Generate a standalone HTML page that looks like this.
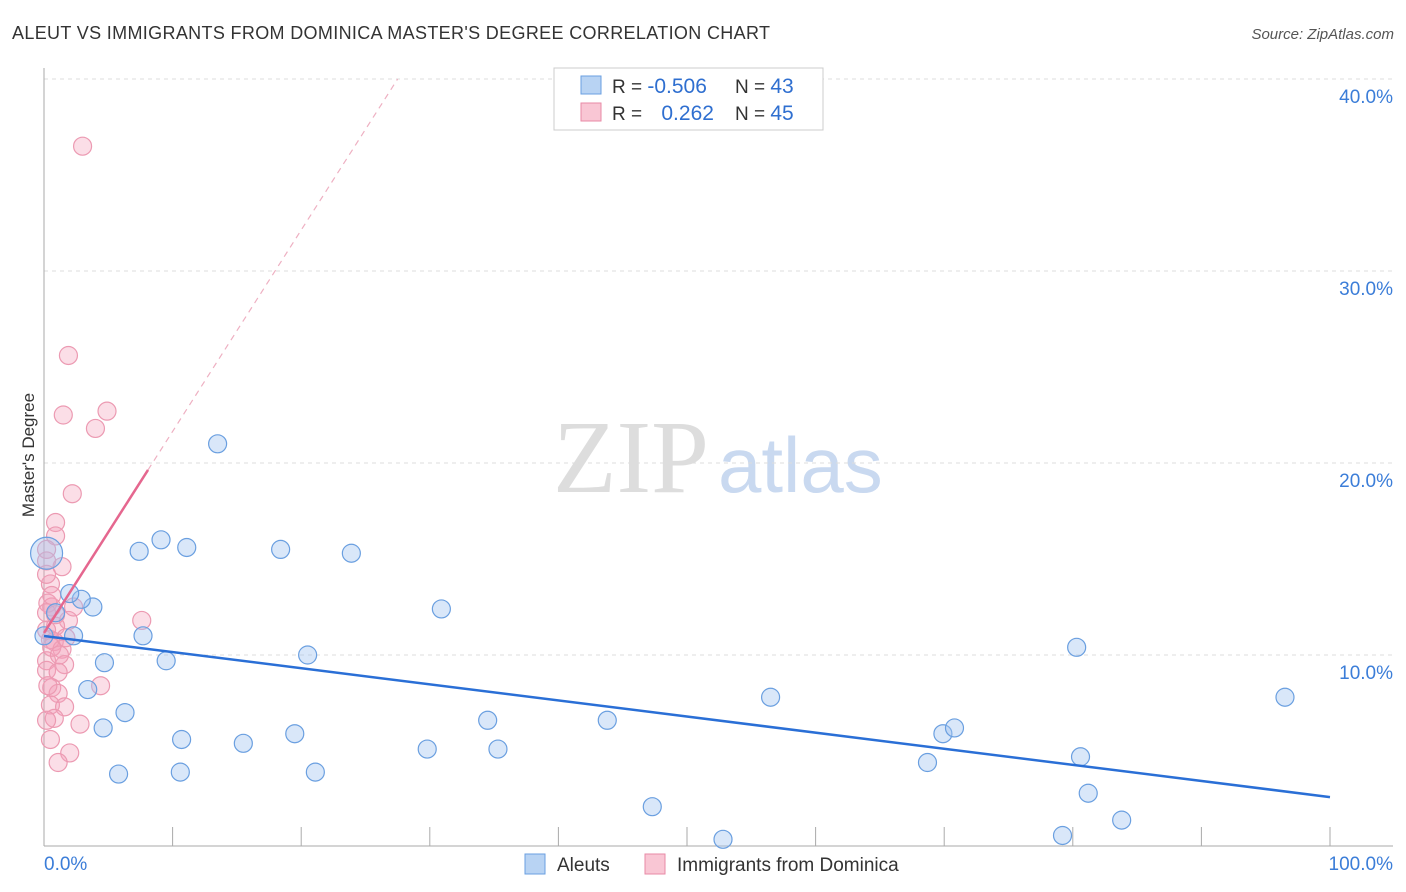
<!DOCTYPE html>
<html><head><meta charset="utf-8"><style>
body{margin:0;background:#fff;font-family:"Liberation Sans",sans-serif;}
svg{display:block}
</style></head><body>
<svg id="c" width="1406" height="892">
<text x="12" y="39" font-size="18" fill="#333" textLength="758">ALEUT VS IMMIGRANTS FROM DOMINICA MASTER'S DEGREE CORRELATION CHART</text>
<text x="1394" y="39" font-size="15" fill="#555" font-style="italic" text-anchor="end">Source: ZipAtlas.com</text>
<text x="34" y="455" font-size="17" fill="#333" text-anchor="middle" transform="rotate(-90 34 455)">Master's Degree</text>
<text x="553" y="492" font-size="104" fill="#ddd" font-family="Liberation Serif">ZIP</text>
<text x="718" y="492" font-size="78" fill="#c9d9f0">atlas</text>
<g id="grid"></g><g id="axes"></g><g id="pts"></g><g id="lines"></g>
<g>
<rect x="554" y="68" width="269" height="62" fill="#fff" stroke="#ccc"/>
<rect x="581" y="76" width="20" height="18" fill="#b8d3f3" stroke="#6a9fe0"/>
<rect x="581" y="103" width="20" height="18" fill="#f9c6d4" stroke="#e88aa6"/>
<text x="612" y="93" font-size="19" fill="#333">R = <tspan fill="#2f6fd0" font-size="21">-0.506</tspan></text>
<text x="735" y="93" font-size="19" fill="#333">N = <tspan fill="#2f6fd0" font-size="21">43</tspan></text>
<text x="612" y="120" font-size="19" fill="#333">R = <tspan fill="#2f6fd0" dx="14" font-size="21">0.262</tspan></text>
<text x="735" y="120" font-size="19" fill="#333">N = <tspan fill="#2f6fd0" font-size="21">45</tspan></text>
</g>
<g>
<rect x="525" y="854" width="20" height="20" fill="#b8d3f3" stroke="#6a9fe0"/>
<text x="557" y="871" font-size="19" fill="#333">Aleuts</text>
<rect x="645" y="854" width="20" height="20" fill="#f9c6d4" stroke="#e88aa6"/>
<text x="677" y="871" font-size="19" fill="#333">Immigrants from Dominica</text>
</g>
</svg>
<script>
const yTicks=[10,20,30,40];
const xTickLabels=["0.0%","100.0%"];
const blueX=[13.5,9.1,7.4,11.1,18.4,23.9,30.9,3.8,2.9,2.0,7.7,2.3,0.9,4.7,9.5,20.5,3.4,6.3,4.6,10.7,15.5,19.5,5.8,10.6,21.1,29.8,34.5,35.3,43.8,47.3,52.8,56.5,68.7,69.9,70.8,80.3,80.6,81.2,79.2,83.8,96.5,0.2,0.0];
const blueY=[21.0,16.0,15.4,15.6,15.5,15.3,12.4,12.5,12.9,13.2,11.0,11.0,12.2,9.6,9.7,10.0,8.2,7.0,6.2,5.6,5.4,5.9,3.8,3.9,3.9,5.1,6.6,5.1,6.6,2.1,0.4,7.8,4.4,5.9,6.2,10.4,4.7,2.8,0.6,1.4,7.8,15.3,11.0];
const pinkX=[3.0,1.9,1.5,4.9,4.0,2.2,0.9,0.9,1.4,0.2,0.2,0.5,0.3,0.6,1.9,0.9,0.2,0.5,0.8,1.4,0.2,1.6,0.2,1.1,0.6,1.1,4.4,0.5,1.6,0.8,2.8,2.0,1.1,7.6,2.3,0.2,0.6,1.2,0.2,0.6,0.9,0.3,1.7,0.2,0.5];
const pinkY=[36.5,25.6,22.5,22.7,21.8,18.4,16.9,16.2,14.6,15.5,14.9,13.7,12.7,12.5,11.8,11.5,11.3,10.8,10.7,10.3,9.7,9.5,9.2,9.1,8.3,8.0,8.4,7.4,7.3,6.7,6.4,4.9,4.4,11.8,12.5,12.2,10.4,10.0,14.2,13.1,12.1,8.4,10.9,6.6,5.6];
const blueLine=[[0,10.99],[100,2.6]];
const pinkLine=[[0,11.15],[8.09,19.64]];
const pinkDash=[[8.09,19.64],[27.5,40]];
const X=v=>44+v*12.86, Y=v=>847-v*19.2;
const ns="http://www.w3.org/2000/svg";
function mk(t,a,p){const e=document.createElementNS(ns,t);for(const k in a)e.setAttribute(k,a[k]);document.getElementById(p).appendChild(e);return e;}
yTicks.forEach(t=>{
 const l=mk('line',{x1:44,x2:1393,y1:Y(t),y2:Y(t),stroke:'#ddd','stroke-dasharray':'4 4'},'grid');
 
 
 const tx=mk('text',{x:1393,y:Y(t)+24,'font-size':19,fill:'#3b7dd8','text-anchor':'end'},'axes');
 tx.textContent=t.toFixed(1)+'%';
 
 
});
mk('line',{x1:44,x2:44,y1:68,y2:846,stroke:'#aaa'},'axes');
mk('line',{x1:44,x2:1393,y1:846,y2:846,stroke:'#aaa'},'axes');
for(let i=1;i<=10;i++){const l=mk('line',{x1:X(i*10),x2:X(i*10),y1:827,y2:846,stroke:'#aaa'},'axes');
 
 }
[[0,44,'start'],[1,1393,'end']].forEach(([i,x,a])=>{const t=mk('text',{x:x,y:870,'font-size':19,fill:'#3b7dd8','text-anchor':a},'axes');t.textContent=xTickLabels[i];
 
 });
pinkX.forEach((v,i)=>{const c=mk('circle',{cx:X(v),cy:Y(pinkY[i]),r:9,fill:'rgba(244,160,185,0.35)',stroke:'#ec9ab2','stroke-width':1.2},'pts');
 
 });
blueX.forEach((v,i)=>{const c=mk('circle',{cx:X(v),cy:Y(blueY[i]),r:i==41?16:9,fill:'rgba(160,195,240,0.4)',stroke:'#6a9fe0','stroke-width':1.2},'pts');
 
 });
const b=mk('line',{x1:X(blueLine[0][0]),y1:Y(blueLine[0][1]),x2:X(blueLine[1][0]),y2:Y(blueLine[1][1]),stroke:'#2a6fd6','stroke-width':2.5},'lines');


const p=mk('line',{x1:X(pinkLine[0][0]),y1:Y(pinkLine[0][1]),x2:X(pinkLine[1][0]),y2:Y(pinkLine[1][1]),stroke:'#e5678f','stroke-width':2.5},'lines');


const d=mk('line',{x1:X(pinkDash[0][0]),y1:Y(pinkDash[0][1]),x2:X(pinkDash[1][0]),y2:Y(pinkDash[1][1]),stroke:'#eeb0c2','stroke-width':1.2,'stroke-dasharray':'6 5'},'lines');


</script>
</body></html>
